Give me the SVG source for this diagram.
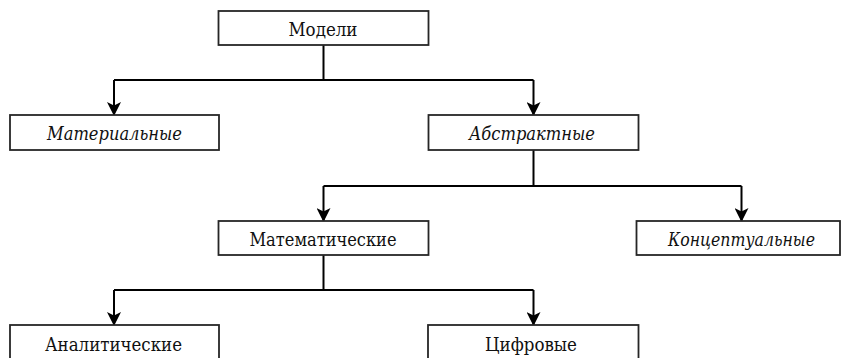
<svg xmlns="http://www.w3.org/2000/svg" width="842" height="358" viewBox="0 0 842 358">
  <style>
    .box { fill: #ffffff; stroke: #262626; stroke-width: 1.8; }
    .lbl { font-family: "DejaVu Serif", "Liberation Serif", serif; font-size: 18.5px; fill: #111111; text-anchor: middle; }
    .it { font-style: italic; }
    .wire { fill: none; stroke: #000000; stroke-width: 2; }
  </style>
  <defs>
    <marker id="arrow" viewBox="0 0 14 14" refX="13" refY="7" markerWidth="14" markerHeight="14" markerUnits="userSpaceOnUse" orient="auto">
      <path d="M0,0 L14,7 L0,14 L3.5,7 Z" fill="#000000"/>
    </marker>
  </defs>
  <rect width="842" height="358" fill="#ffffff"/>

  <!-- connectors -->
  <g id="connectors">
    <path class="wire" d="M323.5,45 V80"/>
    <path class="wire" d="M114,80 H533.5"/>
    <path class="wire" d="M114,80 V115" marker-end="url(#arrow)"/>
    <path class="wire" d="M533.5,80 V115" marker-end="url(#arrow)"/>

    <path class="wire" d="M533.5,150 V186"/>
    <path class="wire" d="M323.5,186 H741.5"/>
    <path class="wire" d="M323.5,186 V221" marker-end="url(#arrow)"/>
    <path class="wire" d="M741.5,186 V221" marker-end="url(#arrow)"/>

    <path class="wire" d="M323.5,255 V290"/>
    <path class="wire" d="M114,290 H533.5"/>
    <path class="wire" d="M114,290 V325" marker-end="url(#arrow)"/>
    <path class="wire" d="M533.5,290 V325" marker-end="url(#arrow)"/>
  </g>

  <!-- nodes -->
  <g id="node-models">
    <rect class="box" x="218.5" y="11" width="210" height="34"/>
    <text class="lbl" x="323" y="35.5" textLength="69" lengthAdjust="spacingAndGlyphs">Модели</text>
  </g>
  <g id="node-material">
    <rect class="box" x="10" y="115" width="209" height="35"/>
    <text class="lbl it" x="114.5" y="140" textLength="135" lengthAdjust="spacingAndGlyphs">Материальные</text>
  </g>
  <g id="node-abstract">
    <rect class="box" x="428.5" y="115" width="210" height="35"/>
    <text class="lbl it" x="532" y="140" textLength="126" lengthAdjust="spacingAndGlyphs">Абстрактные</text>
  </g>
  <g id="node-math">
    <rect class="box" x="218.5" y="221" width="210" height="34"/>
    <text class="lbl" x="323" y="245.5" textLength="147" lengthAdjust="spacingAndGlyphs">Математические</text>
  </g>
  <g id="node-concept">
    <rect class="box" x="636.5" y="221" width="203.5" height="34"/>
    <text class="lbl it" x="741.5" y="245.5" textLength="147" lengthAdjust="spacingAndGlyphs">Концептуальные</text>
  </g>
  <g id="node-analytic">
    <rect class="box" x="10" y="325" width="209" height="40"/>
    <text class="lbl" x="113.5" y="351" textLength="137" lengthAdjust="spacingAndGlyphs">Аналитические</text>
  </g>
  <g id="node-digital">
    <rect class="box" x="428" y="325" width="210.5" height="40"/>
    <text class="lbl" x="531" y="351" textLength="92" lengthAdjust="spacingAndGlyphs">Цифровые</text>
  </g>
</svg>
